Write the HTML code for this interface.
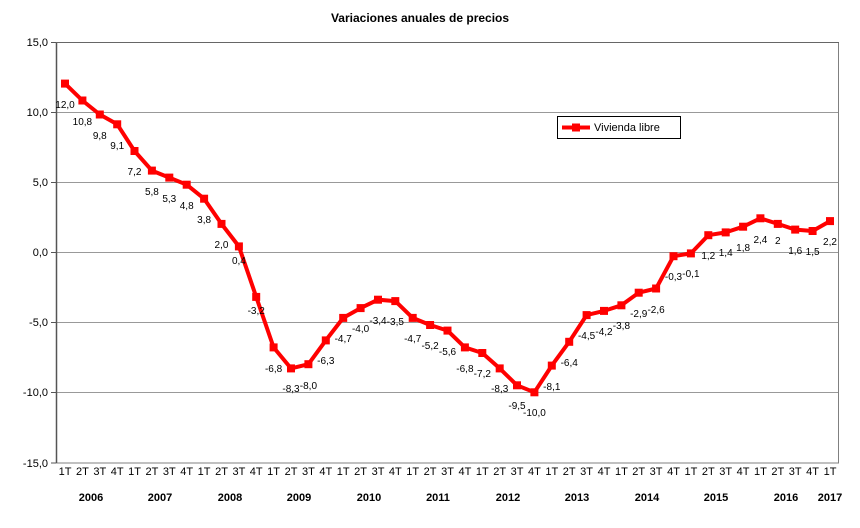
<!DOCTYPE html>
<html><head><meta charset="utf-8"><style>
body{margin:0;background:#fff}
svg{display:block;font-family:"Liberation Sans",Arial,sans-serif}
</style></head><body>
<svg width="860" height="528" viewBox="0 0 860 528">
<text x="420" y="22" font-size="12" font-weight="bold" text-anchor="middle">Variaciones anuales de precios</text>
<g stroke="#999" stroke-width="1">
<line x1="56" y1="112.5" x2="839" y2="112.5"/>
<line x1="56" y1="182.5" x2="839" y2="182.5"/>
<line x1="56" y1="252.5" x2="839" y2="252.5"/>
<line x1="56" y1="322.5" x2="839" y2="322.5"/>
<line x1="56" y1="392.5" x2="839" y2="392.5"/>
</g>
<rect x="56.5" y="42.5" width="782" height="420.5" fill="none" stroke="#808080" stroke-width="1"/>
<line x1="56.5" y1="42" x2="56.5" y2="463" stroke="#555" stroke-width="1.5"/>
<line x1="56" y1="42.5" x2="839" y2="42.5" stroke="#666" stroke-width="1"/>
<g stroke="#555"><line x1="51" y1="42.5" x2="56" y2="42.5"/><line x1="51" y1="112.5" x2="56" y2="112.5"/><line x1="51" y1="182.5" x2="56" y2="182.5"/><line x1="51" y1="252.5" x2="56" y2="252.5"/><line x1="51" y1="322.5" x2="56" y2="322.5"/><line x1="51" y1="392.5" x2="56" y2="392.5"/><line x1="51" y1="463" x2="56" y2="463"/></g>
<g font-size="11" text-anchor="end" fill="#000">
<text x="48" y="46">15,0</text><text x="48" y="116">10,0</text><text x="48" y="186">5,0</text><text x="48" y="256">0,0</text><text x="48" y="326">-5,0</text><text x="48" y="396">-10,0</text><text x="48" y="467">-15,0</text>
</g>
<polyline fill="none" stroke="#f00" stroke-width="4" stroke-linejoin="round" points="65,83.6 82.4,100.5 99.8,114.5 117.2,124.3 134.5,151 151.9,170.6 169.3,177.6 186.7,184.7 204.1,198.7 221.5,223.9 238.9,246.4 256.2,296.9 273.6,347.4 291,368.4 308.4,364.2 325.8,340.4 343.2,317.9 360.6,308.1 378,299.7 395.3,301.1 412.7,317.9 430.1,325 447.5,330.6 464.9,347.4 482.3,353 499.7,368.4 517,385.3 534.4,392.3 551.8,365.6 569.2,341.8 586.6,315.1 604,310.9 621.4,305.3 638.7,292.7 656.1,288.5 673.5,256.2 690.9,253.4 708.3,235.2 725.7,232.4 743.1,226.7 760.4,218.3 777.8,223.9 795.2,229.6 812.6,231 830,221.1"/>
<g fill="#f00">
<rect x="61" y="79.6" width="8" height="8"/><rect x="78.4" y="96.5" width="8" height="8"/><rect x="95.8" y="110.5" width="8" height="8"/><rect x="113.2" y="120.3" width="8" height="8"/><rect x="130.5" y="147" width="8" height="8"/><rect x="147.9" y="166.6" width="8" height="8"/><rect x="165.3" y="173.6" width="8" height="8"/><rect x="182.7" y="180.7" width="8" height="8"/><rect x="200.1" y="194.7" width="8" height="8"/><rect x="217.5" y="219.9" width="8" height="8"/><rect x="234.9" y="242.4" width="8" height="8"/><rect x="252.2" y="292.9" width="8" height="8"/><rect x="269.6" y="343.4" width="8" height="8"/><rect x="287" y="364.4" width="8" height="8"/><rect x="304.4" y="360.2" width="8" height="8"/><rect x="321.8" y="336.4" width="8" height="8"/><rect x="339.2" y="313.9" width="8" height="8"/><rect x="356.6" y="304.1" width="8" height="8"/><rect x="374" y="295.7" width="8" height="8"/><rect x="391.3" y="297.1" width="8" height="8"/><rect x="408.7" y="313.9" width="8" height="8"/><rect x="426.1" y="321" width="8" height="8"/><rect x="443.5" y="326.6" width="8" height="8"/><rect x="460.9" y="343.4" width="8" height="8"/><rect x="478.3" y="349" width="8" height="8"/><rect x="495.7" y="364.4" width="8" height="8"/><rect x="513" y="381.3" width="8" height="8"/><rect x="530.4" y="388.3" width="8" height="8"/><rect x="547.8" y="361.6" width="8" height="8"/><rect x="565.2" y="337.8" width="8" height="8"/><rect x="582.6" y="311.1" width="8" height="8"/><rect x="600" y="306.9" width="8" height="8"/><rect x="617.4" y="301.3" width="8" height="8"/><rect x="634.7" y="288.7" width="8" height="8"/><rect x="652.1" y="284.5" width="8" height="8"/><rect x="669.5" y="252.2" width="8" height="8"/><rect x="686.9" y="249.4" width="8" height="8"/><rect x="704.3" y="231.2" width="8" height="8"/><rect x="721.7" y="228.4" width="8" height="8"/><rect x="739.1" y="222.7" width="8" height="8"/><rect x="756.4" y="214.3" width="8" height="8"/><rect x="773.8" y="219.9" width="8" height="8"/><rect x="791.2" y="225.6" width="8" height="8"/><rect x="808.6" y="227" width="8" height="8"/><rect x="826" y="217.1" width="8" height="8"/>
</g>
<g font-size="10" text-anchor="middle" fill="#000">
<text x="65" y="108">12,0</text><text x="82.4" y="125">10,8</text><text x="99.8" y="139">9,8</text><text x="117.2" y="149">9,1</text><text x="134.5" y="175">7,2</text><text x="151.9" y="195">5,8</text><text x="169.3" y="202">5,3</text><text x="186.7" y="209">4,8</text><text x="204.1" y="223">3,8</text><text x="221.5" y="248">2,0</text><text x="238.9" y="264">0,4</text><text x="256.2" y="314">-3,2</text><text x="273.6" y="372">-6,8</text><text x="291" y="392">-8,3</text><text x="308.4" y="389">-8,0</text><text x="325.8" y="364">-6,3</text><text x="343.2" y="342">-4,7</text><text x="360.6" y="332">-4,0</text><text x="378" y="324">-3,4</text><text x="395.3" y="325">-3,5</text><text x="412.7" y="342">-4,7</text><text x="430.1" y="349">-5,2</text><text x="447.5" y="355">-5,6</text><text x="464.9" y="372">-6,8</text><text x="482.3" y="377">-7,2</text><text x="499.7" y="392">-8,3</text><text x="517" y="409">-9,5</text><text x="534.4" y="416">-10,0</text><text x="551.8" y="390">-8,1</text><text x="569.2" y="366">-6,4</text><text x="586.6" y="339">-4,5</text><text x="604" y="335">-4,2</text><text x="621.4" y="329">-3,8</text><text x="638.7" y="317">-2,9</text><text x="656.1" y="313">-2,6</text><text x="673.5" y="280">-0,3</text><text x="690.9" y="277">-0,1</text><text x="708.3" y="259">1,2</text><text x="725.7" y="256">1,4</text><text x="743.1" y="251">1,8</text><text x="760.4" y="243">2,4</text><text x="777.8" y="244">2</text><text x="795.2" y="254">1,6</text><text x="812.6" y="255">1,5</text><text x="830" y="245">2,2</text>
</g>
<g font-size="11" text-anchor="middle" fill="#000">
<text x="65" y="475">1T</text><text x="82.4" y="475">2T</text><text x="99.8" y="475">3T</text><text x="117.2" y="475">4T</text><text x="134.5" y="475">1T</text><text x="151.9" y="475">2T</text><text x="169.3" y="475">3T</text><text x="186.7" y="475">4T</text><text x="204.1" y="475">1T</text><text x="221.5" y="475">2T</text><text x="238.9" y="475">3T</text><text x="256.2" y="475">4T</text><text x="273.6" y="475">1T</text><text x="291" y="475">2T</text><text x="308.4" y="475">3T</text><text x="325.8" y="475">4T</text><text x="343.2" y="475">1T</text><text x="360.6" y="475">2T</text><text x="378" y="475">3T</text><text x="395.3" y="475">4T</text><text x="412.7" y="475">1T</text><text x="430.1" y="475">2T</text><text x="447.5" y="475">3T</text><text x="464.9" y="475">4T</text><text x="482.3" y="475">1T</text><text x="499.7" y="475">2T</text><text x="517" y="475">3T</text><text x="534.4" y="475">4T</text><text x="551.8" y="475">1T</text><text x="569.2" y="475">2T</text><text x="586.6" y="475">3T</text><text x="604" y="475">4T</text><text x="621.4" y="475">1T</text><text x="638.7" y="475">2T</text><text x="656.1" y="475">3T</text><text x="673.5" y="475">4T</text><text x="690.9" y="475">1T</text><text x="708.3" y="475">2T</text><text x="725.7" y="475">3T</text><text x="743.1" y="475">4T</text><text x="760.4" y="475">1T</text><text x="777.8" y="475">2T</text><text x="795.2" y="475">3T</text><text x="812.6" y="475">4T</text><text x="830" y="475">1T</text>
</g>
<g font-size="11" font-weight="bold" text-anchor="middle" fill="#000">
<text x="91" y="501">2006</text><text x="160" y="501">2007</text><text x="230" y="501">2008</text><text x="299" y="501">2009</text><text x="369" y="501">2010</text><text x="438" y="501">2011</text><text x="508" y="501">2012</text><text x="577" y="501">2013</text><text x="647" y="501">2014</text><text x="716" y="501">2015</text><text x="786" y="501">2016</text><text x="830" y="501">2017</text>
</g>
<rect x="557.5" y="116.5" width="123" height="22" fill="#fff" stroke="#000" stroke-width="1"/>
<line x1="562" y1="127.5" x2="590" y2="127.5" stroke="#f00" stroke-width="4"/>
<rect x="572" y="123.5" width="8" height="8" fill="#f00"/>
<text x="594" y="131" font-size="11">Vivienda libre</text>
</svg>
</body></html>
